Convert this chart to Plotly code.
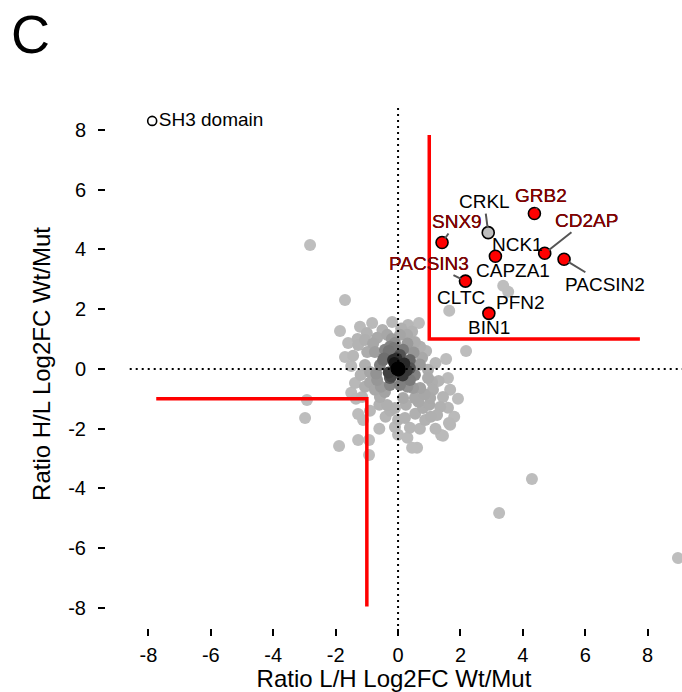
import numpy as np
import plotly.graph_objects as go

# ---------------- data ----------------
gray_x = [-2.82, -1.70, -1.86, -1.22, -0.83, -1.60, -1.28, -1.44, -0.67, -0.74,
          -1.06, -0.35, -0.26, -0.48, -0.16, -0.99, 0.67, 2.18, 1.54, 0.29,
          0.54, 0.71, 0.16, 0.38, 0.77, 0.96, -0.10, -2.92, -2.98, -1.89,
          -1.28, -0.93, -0.93, -1.28, -1.12, -1.38, -1.06, -1.15, -0.58, -0.35,
          -0.10, -0.67, -0.26, -0.90, 1.67, 1.92, 1.63, 1.38, 0.45, 0.38,
          0.22, 0.80, 1.35, 1.12, 0.96, 0.48, 0.16, 0.54, 1.44, 0.38,
          1.67, 1.44, 4.29, 3.24, 8.97, 0.61, -0.42, 0.06, -0.58, 0.38,
          0.54, -0.26, 0.06, -0.42, 0.71, -0.10, -0.74, 1.03, 0.87, 0.06,
          -0.19, 0.32, -1.06, 1.09, 1.25,
          -1.00, -0.50, 0.10, 0.45, -1.30, -0.80, -0.20, 0.30, 0.90, 1.20,
          -1.50, -1.20, -0.70, -0.45, 0.70, 1.30, 1.60, -1.50, -0.90, -0.60,
          -0.90, -0.40, -0.60, 0.00, 0.30, 0.70, 1.05, 1.20, 0.55, 0.00,
          -0.25, 0.25, 0.65, 1.00, 1.60, 1.80, -0.30, 0.50, -0.05, 0.30,
          -0.55, 0.85, -1.70, -1.35, -0.15,
          0.00, 0.02, -0.02, 0.04, -0.04, 0.01, -0.01, 0.03, -0.03, 0.05,
          0.00, -0.05, 0.02, -0.02, -0.22, 0.20, -0.30, 0.15, -0.12, 0.28]
gray_y = [4.15, 2.31, 1.27, 1.41, 1.54, 0.87, 0.80, 0.44, 1.04, 0.57,
          0.13, 1.14, 0.74, 0.30, 0.30, 0.57, 1.54, 0.60, 0.33, 1.14,
          0.90, 0.74, 0.64, 0.30, 0.37, -0.03, 0.87, -1.04, -1.64, -2.58,
          -2.38, -2.38, -2.88, -1.51, -1.71, -0.47, -0.60, -0.94, -0.94, -1.21,
          -1.94, -0.37, -0.54, -0.10, -0.70, -1.00, -1.81, -2.21, -2.64, -1.97,
          -1.64, -1.31, -1.27, -0.70, -0.30, -0.64, -0.97, -0.97, -0.94, -0.37,
          -1.87, -2.24, -3.68, -4.82, -6.33, -2.64, 0.64, 0.47, 0.13, 0.03,
          -0.20, -0.30, -0.54, -0.77, -0.64, -1.31, -0.70, -0.97, -1.71, 1.14,
          1.57, 1.47, 0.97, -0.44, -1.54,
          1.20, 1.30, 1.35, 1.25, 1.00, 0.85, 1.00, 0.85, 0.60, 0.20,
          0.10, -0.20, -0.15, 0.35, 0.15, -0.40, -0.30, -0.80, -0.45, -1.20,
          -1.40, -1.60, -2.00, -2.20, -2.30, -2.00, -1.60, -2.00, -1.50, -1.70,
          -1.40, -1.20, -1.10, -1.20, -1.30, -1.60, 0.60, 0.55, 0.35, -0.60,
          -0.60, -0.85, 0.40, -1.00, 0.70,
          0.00, 0.01, -0.02, -0.01, 0.02, 0.04, -0.04, 0.03, -0.03, -0.02,
          0.05, 0.00, -0.05, 0.03, -0.25, 0.18, -0.12, -0.22, 0.20, -0.05]

label_names = ["GRB2", "CD2AP", "PACSIN2", "SNX9", "CRKL", "NCK1", "PACSIN3",
               "CAPZA1", "PFN2", "CLTC", "BIN1"]
label_x = [4.37, 4.70, 5.32, 1.41, 2.89, 3.12, 2.16, 3.37, 3.53, 1.64, 2.91]
label_y = [5.20, 3.87, 3.67, 4.23, 4.56, 3.77, 2.94, 2.78, 2.58, 1.95, 1.86]
significant = [1, 1, 1, 1, 0, 1, 1, 0, 0, 0, 1]
sh3_domain = [1, 1, 1, 1, 1, 1, 1, 0, 0, 0, 1]
red_label = [1, 1, 0, 1, 0, 0, 1, 0, 0, 0, 0]

thr_up_x = [1, 1, 7.75]
thr_up_y = [7.83, 1, 1]
thr_dn_x = [-7.75, -1, -1]
thr_dn_y = [-1, -1, -7.95]

tick_vals = [-8, -6, -4, -2, 0, 2, 4, 6, 8]
tick_text = ["-8", "-6", "-4", "-2", "0", "2", "4", "6", "8"]

# label text offsets (pixels from point to text centre)
label_offsets = {
    "GRB2": (7, -18), "CD2AP": (42, -33), "PACSIN2": (41, 25), "SNX9": (15, -21),
    "CRKL": (-4, -31), "NCK1": (22, -12), "PACSIN3": (-36, -18), "CAPZA1": (10, -15),
    "PFN2": (12, 11), "CLTC": (12, -13), "BIN1": (0, 14),
}

FONT = "Liberation Sans, Arial, Helvetica, sans-serif"

# density-based gray shading (like R densCols with a gray->black ramp)
gx = np.array(gray_x)
gy = np.array(gray_y)
d2 = (gx[:, None] - gx[None, :]) ** 2 + (gy[:, None] - gy[None, :]) ** 2
dens = np.exp(-d2 / (2 * 0.4 ** 2)).sum(axis=1)
t = (dens - dens.min()) / (dens.max() - dens.min())
levels = (190 * (1 - t ** 2.2)).astype(int)
order = np.argsort(dens)
gray_cols = [f"rgb({v},{v},{v})" for v in levels[order]]

fig = go.Figure()

# gray cloud
fig.add_trace(go.Scatter(
    x=gx[order], y=gy[order], mode="markers",
    marker=dict(size=12, color=gray_cols, line=dict(width=0)),
    showlegend=False, hoverinfo="skip"))

# dotted zero lines
fig.add_trace(go.Scatter(x=[-8.6, 9.2], y=[0, 0], mode="lines",
                         line=dict(color="black", width=2, dash="2px,4px"),
                         showlegend=False, hoverinfo="skip"))
fig.add_trace(go.Scatter(x=[0, 0], y=[-8.6, 8.75], mode="lines",
                         line=dict(color="black", width=2, dash="2px,4px"),
                         showlegend=False, hoverinfo="skip"))

# red threshold lines
for xs, ys in ((thr_up_x, thr_up_y), (thr_dn_x, thr_dn_y)):
    fig.add_trace(go.Scatter(x=xs, y=ys, mode="lines",
                             line=dict(color="#ff0000", width=3.5),
                             showlegend=False, hoverinfo="skip"))

# labelled points
fills = []
lines = []
for s, d in zip(significant, sh3_domain):
    fills.append("#ff0000" if s else "#bebebe")
    lines.append(1.6 if d else 0)
fig.add_trace(go.Scatter(
    x=label_x, y=label_y, mode="markers", text=label_names,
    marker=dict(size=12, color=fills, line=dict(color="black", width=lines)),
    showlegend=False))

# labels with leader lines
for name, x, y, r in zip(label_names, label_x, label_y, red_label):
    ax, ay = label_offsets[name]
    font = dict(family=FONT, size=19, color="#8a0000" if r else "black")
    if r:
        font["shadow"] = "0px 0px 0.6px #000000"
    fig.add_annotation(x=x, y=y, text=name, showarrow=True, ax=ax, ay=ay,
                       arrowhead=0, arrowwidth=2, arrowcolor="#555555",
                       standoff=5, font=font)

# legend-like key
fig.add_trace(go.Scatter(
    x=[-7.88], y=[8.30], mode="markers+text", text=["SH3 domain"],
    textposition="middle right",
    textfont=dict(family=FONT, size=19, color="black"),
    marker=dict(size=9, color="white", line=dict(color="black", width=1.6)),
    showlegend=False, hoverinfo="skip"))

# panel letter
fig.add_annotation(xref="paper", yref="paper", x=-0.168, y=1.125, xanchor="left",
                   yanchor="middle", text="C", showarrow=False,
                   font=dict(family=FONT, size=54, color="black"))

axis_common = dict(
    showgrid=False, zeroline=False, showline=False,
    ticks="outside", ticklen=7, tickwidth=2, tickcolor="black",
    tickvals=tick_vals, ticktext=tick_text,
    tickfont=dict(family=FONT, size=20, color="black"),
)

fig.update_layout(
    width=682, height=692,
    margin=dict(l=106, r=0, t=100, b=64),
    plot_bgcolor="white", paper_bgcolor="white",
    xaxis=dict(range=[-9.36, 9.10],
               title=dict(text="Ratio L/H Log2FC Wt/Mut", standoff=2,
                          font=dict(family=FONT, size=24, color="black")),
               ticklabelstandoff=2, **axis_common),
    yaxis=dict(range=[-8.67, 9.00],
               title=dict(text="Ratio H/L Log2FC Wt/Mut", standoff=10,
                          font=dict(family=FONT, size=24, color="black")),
               ticklabelstandoff=8, **axis_common),
    showlegend=False,
)

fig.write_html("out.html", config={"displayModeBar": False},
               post_script="document.body.style.margin='0';document.body.style.padding='0';")
